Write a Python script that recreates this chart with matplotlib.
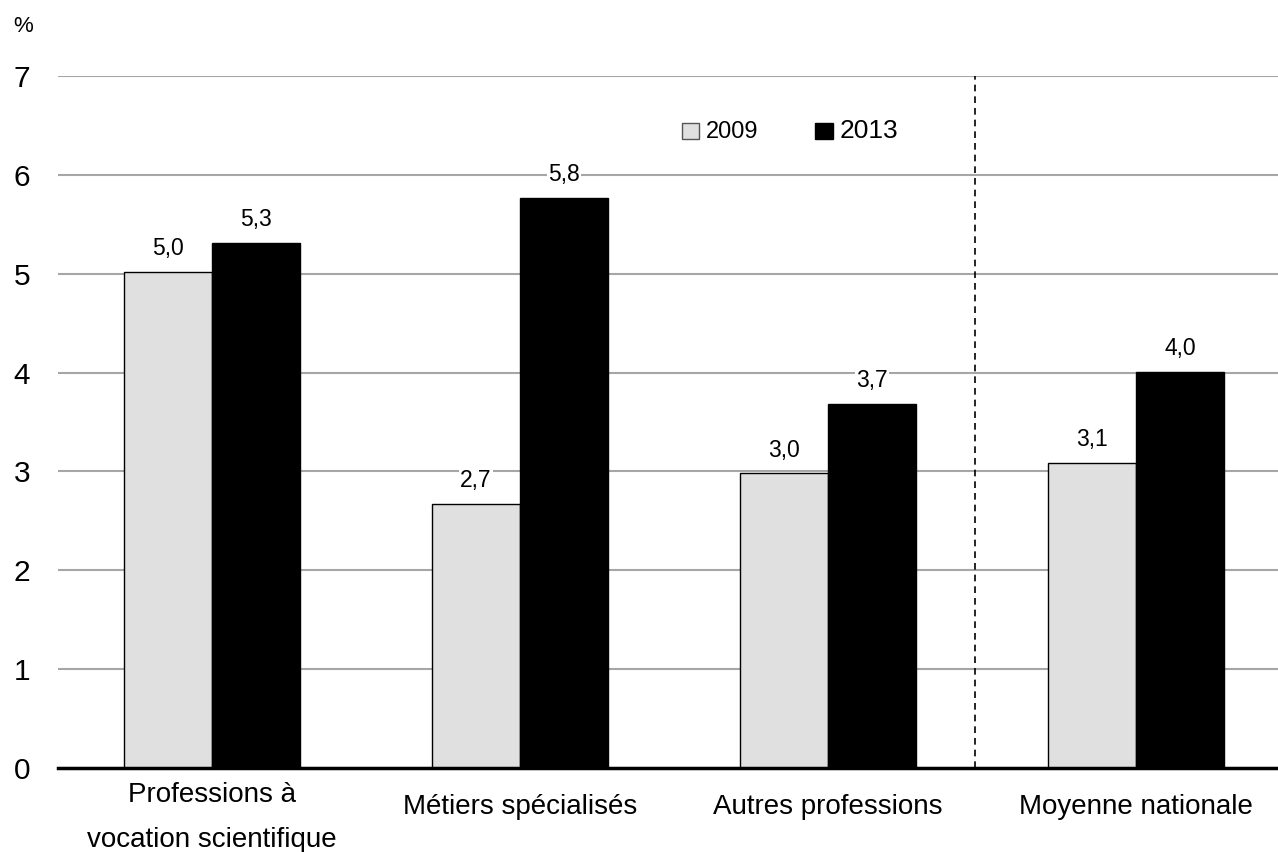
import matplotlib
matplotlib.use("Agg")
import matplotlib.pyplot as plt
import matplotlib.patches as mpatches
from matplotlib.transforms import ScaledTranslation
import numpy as np

plt.rcParams['font.family'] = ['Liberation Sans', 'DejaVu Sans']

categories = ['Professions à\nvocation scientifique', 'Métiers spécialisés',
              'Autres professions', 'Moyenne nationale']
values_2009 = [5.02, 2.67, 2.98, 3.09]
values_2013 = [5.31, 5.77, 3.68, 4.01]
labels_2009 = ['5,0', '2,7', '3,0', '3,1']
labels_2013 = ['5,3', '5,8', '3,7', '4,0']

fig = plt.figure(figsize=(12.78, 8.52), dpi=100)
ax = fig.add_axes([58 / 1278, 84 / 852, 1232 / 1278, 692 / 852])

x = np.arange(len(categories))
w = 0.286
b1 = ax.bar(x - w / 2, values_2009, w, color='#e0e0e0', edgecolor='black', linewidth=1, zorder=3)
b2 = ax.bar(x + w / 2, values_2013, w, color='black', edgecolor='black', linewidth=1, zorder=3)

# value labels above bars
for bars, labs in [(b1, labels_2009), (b2, labels_2013)]:
    for bar, lab in zip(bars, labs):
        ax.text(bar.get_x() + bar.get_width() / 2, bar.get_height() + 0.12, lab,
                ha='center', va='bottom', fontsize=16.5,
                bbox=dict(facecolor='white', edgecolor='none', pad=1), zorder=4)

ax.set_xlim(-0.5, 3.5)
ax.set_ylim(0, 7)
ax.set_yticks(range(0, 8))
ax.set_xticks(x)
ax.set_xticklabels(categories, fontsize=20, linespacing=1.95)
ax.tick_params(axis='y', labelsize=21.5, length=0, pad=20)
ax.tick_params(axis='x', length=0, pad=19)
# two-line label sits higher than the others
first = ax.get_xticklabels()[0]
first.set_transform(first.get_transform() + ScaledTranslation(0, 0.12, fig.dpi_scale_trans))

ax.yaxis.grid(True, color='#a6a6a6', linewidth=1.5, zorder=0)
ax.set_axisbelow(True)
for s in ['top', 'right', 'left']:
    ax.spines[s].set_visible(False)
ax.spines['bottom'].set_linewidth(2.5)
ax.spines['bottom'].set_zorder(5)

ax.axvline(2.477, color='black', linestyle=(0, (4, 3)), linewidth=1.2, zorder=2)

fig.text(23 / 1278, 1 - 27 / 852, '%', fontsize=16, ha='center', va='center')

h1 = mpatches.Patch(facecolor='#e0e0e0', edgecolor='#555555', linewidth=1)
h2 = mpatches.Patch(facecolor='black', edgecolor='black')
leg = fig.legend([h1, h2], ['2009', '2013'], ncol=2, frameon=False,
                 loc='center', bbox_to_anchor=(790 / 1278, 1 - 131 / 852),
                 handlelength=0.9, handleheight=0.9, handletextpad=0.35,
                 columnspacing=2.9, fontsize=14)
leg.get_texts()[0].set_fontsize(17)
leg.get_texts()[1].set_fontsize(19)

fig.savefig('out.png', dpi=100)
